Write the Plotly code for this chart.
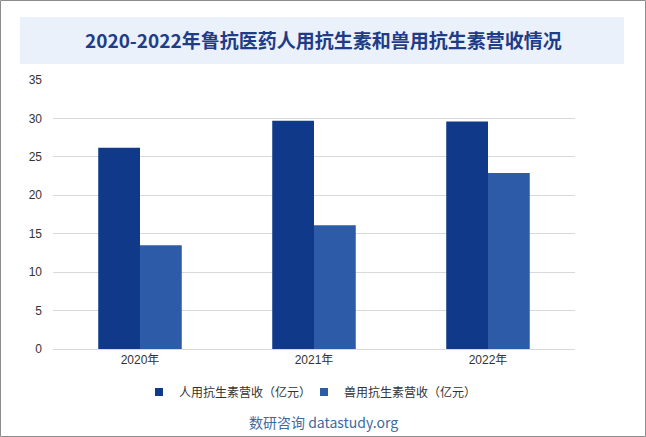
import plotly.graph_objects as go

categories = ["2020年", "2021年", "2022年"]
human = [26.2, 29.7, 29.6]
animal = [13.5, 16.1, 22.9]
series_names = ["人用抗生素营收（亿元）", "兽用抗生素营收（亿元）"]
y_ticks = [0, 5, 10, 15, 20, 25, 30, 35]
colors = ["#10398A", "#2E5BA8"]

W, H = 646, 437
L, R, T, B = 53, 71, 80, 88
pw, ph = W - L - R, H - T - B

def px(x):
    return (x - L) / pw

def py(y):
    return (H - B - y) / ph

fig = go.Figure()
fig.add_trace(go.Bar(x=categories, y=human, name=series_names[0], marker_color=colors[0],
                     marker_line_width=0, showlegend=False))
fig.add_trace(go.Bar(x=categories, y=animal, name=series_names[1], marker_color=colors[1],
                     marker_line_width=0, showlegend=False))
for nm, c in zip(series_names, colors):
    fig.add_trace(go.Scatter(x=[None], y=[None], mode="markers", name=nm,
                             marker=dict(symbol="square", size=8, color=c)))

font_num = "Liberation Sans, Noto Sans CJK SC, sans-serif"
font_cjk = "Noto Sans CJK SC, sans-serif"

fig.update_layout(
    width=W, height=H,
    margin=dict(l=L, r=R, t=T, b=B),
    paper_bgcolor="white", plot_bgcolor="white",
    barmode="group", bargap=0.52, bargroupgap=0,
    font=dict(family=font_num, size=12, color="#333333"),
    showlegend=True,
    legend=dict(orientation="h", x=px(304), xanchor="center", y=py(392), yanchor="middle",
                font=dict(size=12, color="#333333", family=font_cjk), itemwidth=30,
                entrywidth=120, entrywidthmode="pixels",
                traceorder="normal", itemclick=False),
    xaxis=dict(showgrid=False, showline=True, linecolor="#d9d9d9", linewidth=1, ticks="",
               tickfont=dict(size=12, color="#333333", family=font_num)),
    yaxis=dict(range=[0, 35], tickvals=y_ticks, showgrid=True, gridcolor="#d9d9d9", gridwidth=1,
               zeroline=False, showline=False, ticks="",
               tickfont=dict(size=12, color="#333333", family=font_num),
               ticklabelstandoff=10),
    shapes=[
        dict(type="rect", xref="paper", yref="paper", x0=px(20), x1=px(624), y0=py(64), y1=py(17),
             fillcolor="#EAF1FB", line_width=0, layer="below"),
        dict(type="rect", xref="paper", yref="paper", x0=px(0.5), x1=px(645.5), y0=py(436.5), y1=py(0.5),
             fillcolor="rgba(0,0,0,0)", line=dict(color="#8c8c8c", width=1)),
    ],
    annotations=[
        dict(text="<b>2020-2022年鲁抗医药人用抗生素和兽用抗生素营收情况</b>", xref="paper", yref="paper",
             x=px(323), y=py(40), xanchor="center", yanchor="middle", showarrow=False,
             font=dict(size=19, color="#1F3C88", family=font_cjk)),
        dict(text="数研咨询 datastudy.org", xref="paper", yref="paper",
             x=px(323), y=py(422), xanchor="center", yanchor="middle", showarrow=False,
             font=dict(size=14, color="#3E6A9E", family=font_cjk)),
    ],
)

fig.write_html("out.html", config={"displayModeBar": False},
               post_script="document.body.style.margin='0';document.body.style.overflow='hidden';")
